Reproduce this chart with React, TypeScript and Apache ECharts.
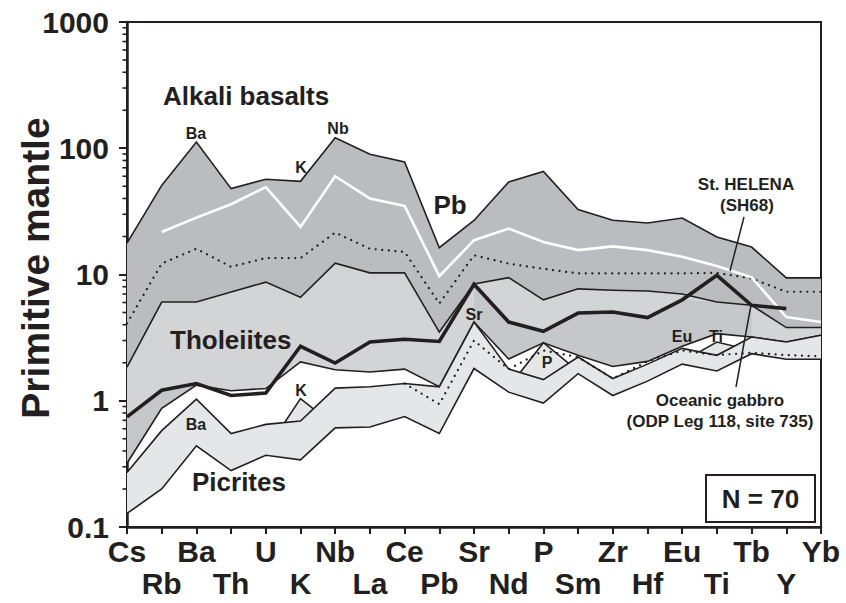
import React, { useEffect, useRef } from 'react';
import * as echarts from 'echarts';

// Element order along the x axis (primitive-mantle normalised spider diagram)
const CATS = ['Cs', 'Rb', 'Ba', 'Th', 'U', 'K', 'Nb', 'La', 'Ce', 'Pb', 'Sr', 'Nd', 'P', 'Sm', 'Zr', 'Hf', 'Eu', 'Ti', 'Tb', 'Y', 'Yb'];

// Alkali basalt field: upper envelope (its lower side is the tholeiite upper envelope)
const alkaliUpper = [17.7, 50.8, 112, 47.9, 56.8, 54.7, 121, 89.5, 77.8, 16.3, 26.8, 54, 65.6, 32.7, 26.9, 25.6, 28, 19.8, 16.5, 9.4, 9.4];
// Tholeiite field
const tholUpper = [1.85, 6.05, 6.05, 7.26, 8.7, 6.6, 12.3, 10.3, 10.3, 3.5, 8.4, 9.45, 6.3, 7.7, 7.5, 7.4, 7.0, 6.05, 5.7, 3.8, 3.8];
const tholLower = [0.32, 0.87, 1.33, 1.2, 1.25, 2.03, 1.76, 1.69, 1.78, 1.29, 4.2, 2.14, 2.88, 2.29, 1.87, 2.05, 2.7, 3.4, 3.2, 2.92, 3.3];
// Overlap sub-field (darker shade inside the tholeiite field)
const overlapUpper = [0.745, 1.21, 1.37, null, null, null, null, null, null, null, 8.36, 4.2, 3.55, 4.95, 5.05, 4.56, 6.3, 6.05, 5.7, null, null];
// Secondary picrite envelope (K, P and Ti spikes)
const picSpike = [0.18, 0.34, 0.65, 0.4, 0.4, 1.04, 0.63, 0.8, 0.95, 0.8, 2.5, 1.28, 2.88, 1.72, 1.25, 1.6, 2.05, 2.92, 2.5, 2.4, 2.6];
// Picrite field
const picUpper = [0.27, 0.58, 1.03, 0.55, 0.65, 0.69, 1.26, 1.29, 1.37, 1.29, 4.2, 1.78, 1.47, 2.22, 1.5, 1.95, 2.6, 2.29, 3.2, 2.92, 3.3];
const picLower = [0.128, 0.2, 0.44, 0.28, 0.37, 0.34, 0.61, 0.62, 0.75, 0.55, 1.8, 1.17, 0.96, 1.64, 1.1, 1.43, 1.95, 1.72, 2.36, 2.13, 2.13];
// Average patterns (dotted)
const dottedUpper = [4.1, 12.2, 16, 11.5, 13.5, 13.5, 21.5, 16, 15.1, 5.9, 14.2, 12.2, 11.1, 10.2, 10.2, 10.2, 10.2, 10.3, 9.3, 7.3, 7.3];
const dottedLower = [null, null, null, null, null, null, null, null, 1.37, 0.94, 3.0, 1.78, 2.5, 2.22, 1.5, 2.05, 2.5, 2.3, 2.4, 2.3, 2.25];
// St. HELENA (SH68) – white line
const stHelena = [null, 21.7, 28.2, 36, 49.3, 23.8, 60, 39.9, 34.9, 9.7, 18.7, 23.1, 18.1, 15.6, 16.7, 15.6, 13.8, 11.7, 9.5, 4.6, 4.2];
// Oceanic gabbro (ODP Leg 118, site 735) – thick line
const gabbro = [0.745, 1.21, 1.37, 1.1, 1.15, 2.7, 1.99, 2.92, 3.07, 2.95, 8.36, 4.2, 3.55, 4.95, 5.05, 4.56, 6.3, 9.86, 5.7, 5.37, null];

// y-axis minor tick positions
const DECADES = [0.1, 1, 10, 100];
const MINOR_STEPS = [2, 3, 4, 5, 6, 7, 8, 9];

const INK = '#231f20';
const FONT = "'Liberation Sans', Arial, Helvetica, sans-serif";
const C_DARK = '#bbbcc0';
const C_LIGHT = '#d3d4d6';
const C_MED = '#c6c7ca';
const C_PALE = '#e5e6e8';

function runs(up: (number | null)[], lo: (number | null)[]) {
  const res: number[][] = [];
  let cur: number[] = [];
  for (let i = 0; i < up.length; i++) {
    if (up[i] != null && lo[i] != null) cur.push(i);
    else {
      if (cur.length) res.push(cur);
      cur = [];
    }
  }
  if (cur.length) res.push(cur);
  return res;
}

function bandFill(up: (number | null)[], lo: (number | null)[], fill: string, z: number) {
  return {
    type: 'custom',
    z,
    silent: true,
    data: [[0, 1]],
    encode: { x: 0, y: 1 },
    renderItem: (_p: any, api: any) => {
      const children: any[] = [];
      for (const r of runs(up, lo)) {
        const pu = r.map((i) => api.coord([i, up[i]]));
        const pl = r.map((i) => api.coord([i, lo[i]]));
        children.push({
          type: 'polygon',
          shape: { points: pu.concat(pl.slice().reverse()) },
          style: { fill, stroke: null },
        });
      }
      return { type: 'group', children };
    },
  };
}

function pts(arr: (number | null)[]) {
  const out: number[][] = [];
  arr.forEach((v, i) => {
    if (v != null) out.push([i, v]);
  });
  return out;
}

function lineSeries(arr: (number | null)[], color: string, width: number, z: number, type: any = 'solid', cap = 'butt') {
  return {
    type: 'line',
    z,
    silent: true,
    symbol: 'none',
    data: pts(arr),
    lineStyle: { color, width, type, cap, join: 'miter' },
  };
}

const labelBase = {
  fontSize: 30,
  fontWeight: 'bold',
  fontFamily: FONT,
  color: INK,
  lineHeight: 32,
};

export default function App() {
  const ref = useRef<HTMLDivElement>(null);
  useEffect(() => {
    const chart = echarts.init(ref.current!, null, { renderer: 'svg' });
    const option: any = {
      animation: false,
      backgroundColor: '#ffffff',
      grid: { left: 127, right: 25, top: 22, bottom: 76, show: true, borderColor: INK, borderWidth: 2 },
      xAxis: [
        {
          type: 'value',
          position: 'bottom',
          min: 0,
          max: 20,
          interval: 1,
          splitLine: { show: false },
          axisLine: { show: true, onZero: false, lineStyle: { color: INK, width: 2.5 } },
          axisTick: { show: true, length: 7, lineStyle: { color: INK, width: 2 } },
          axisLabel: {
            ...labelBase,
            margin: 8,
            showMinLabel: true,
            showMaxLabel: true,
            formatter: (v: number) => {
              const i = Math.round(v);
              return i % 2 === 0 ? CATS[i] : '';
            },
          },
        },
        {
          type: 'value',
          position: 'bottom',
          min: 0,
          max: 20,
          interval: 1,
          splitLine: { show: false },
          axisLine: { show: false, onZero: false },
          axisTick: { show: false },
          axisLabel: {
            ...labelBase,
            margin: 40,
            showMinLabel: true,
            showMaxLabel: true,
            formatter: (v: number) => {
              const i = Math.round(v);
              return i % 2 === 1 ? CATS[i] : '';
            },
          },
        },
      ],
      yAxis: {
        type: 'log',
        logBase: 10,
        min: 0.1,
        max: 1000,
        splitLine: { show: false },
        axisLine: { show: true, lineStyle: { color: INK, width: 2.5 } },
        axisTick: { show: true, length: 8, lineStyle: { color: INK, width: 2 } },
        axisLabel: {
          margin: 18,
          fontSize: 30,
          fontWeight: 'bold',
          fontFamily: FONT,
          color: INK,
          showMinLabel: true,
          showMaxLabel: true,
          formatter: (v: number) => (v < 0.5 ? '0.1' : String(Math.round(v))),
        },
      },
      series: [
        bandFill(alkaliUpper, tholUpper, C_DARK, 1),
        bandFill(tholUpper, tholLower, C_LIGHT, 2),
        bandFill(overlapUpper, tholLower, C_MED, 3),
        lineSeries(alkaliUpper, INK, 1.6, 4),
        lineSeries(tholUpper, INK, 1.6, 4),
        lineSeries(tholLower, INK, 1.6, 4),
        bandFill(picSpike, picLower, C_PALE, 5),
        lineSeries(picSpike, INK, 1.6, 6),
        bandFill(picUpper, picLower, C_PALE, 7),
        lineSeries(picUpper, INK, 1.6, 8),
        lineSeries(picLower, INK, 1.6, 8),
        lineSeries(dottedUpper, INK, 2.2, 9, [0.1, 6.5], 'round'),
        lineSeries(dottedLower, INK, 2.2, 9, [0.1, 6.5], 'round'),
        lineSeries(stHelena, '#ffffff', 2.6, 10),
        lineSeries(gabbro, INK, 3.6, 11),
        {
          type: 'custom',
          z: 12,
          silent: true,
          clip: false,
          data: [[0, 1]],
          encode: { x: 0, y: 1 },
          renderItem: (_p: any, api: any) => {
            const children: any[] = [];
            for (const d of DECADES) {
              for (const k of MINOR_STEPS) {
                const p = api.coord([0, d * k]);
                children.push({
                  type: 'line',
                  shape: { x1: p[0] - 4.5, y1: p[1], x2: p[0], y2: p[1] },
                  style: { stroke: INK, lineWidth: 1.6 },
                });
              }
            }
            return { type: 'group', children };
          },
        },
      ],
      graphic: [
        {
          type: 'text', x: 35, y: 268, rotation: Math.PI / 2, z: 100,
          style: { text: 'Primitive mantle', font: `bold 39px ${FONT}`, fill: INK, align: 'center', verticalAlign: 'middle' },
        },
        { type: 'text', x: 163, y: 96, z: 100, style: { text: 'Alkali basalts', font: `bold 26px ${FONT}`, fill: INK, align: 'left', verticalAlign: 'middle' } },
        { type: 'text', x: 450, y: 205, z: 100, style: { text: 'Pb', font: `bold 26px ${FONT}`, fill: INK, align: 'center', verticalAlign: 'middle' } },
        { type: 'text', x: 170, y: 340, z: 100, style: { text: 'Tholeiites', font: `bold 26px ${FONT}`, fill: INK, align: 'left', verticalAlign: 'middle' } },
        { type: 'text', x: 192, y: 482, z: 100, style: { text: 'Picrites', font: `bold 26px ${FONT}`, fill: INK, align: 'left', verticalAlign: 'middle' } },
        { type: 'text', x: 196, y: 133, z: 100, style: { text: 'Ba', font: `bold 16px ${FONT}`, fill: INK, align: 'center', verticalAlign: 'middle' } },
        { type: 'text', x: 301, y: 167, z: 100, style: { text: 'K', font: `bold 16px ${FONT}`, fill: INK, align: 'center', verticalAlign: 'middle' } },
        { type: 'text', x: 338, y: 128, z: 100, style: { text: 'Nb', font: `bold 16px ${FONT}`, fill: INK, align: 'center', verticalAlign: 'middle' } },
        { type: 'text', x: 474, y: 314, z: 100, style: { text: 'Sr', font: `bold 16px ${FONT}`, fill: INK, align: 'center', verticalAlign: 'middle' } },
        { type: 'text', x: 547, y: 362, z: 100, style: { text: 'P', font: `bold 16px ${FONT}`, fill: INK, align: 'center', verticalAlign: 'middle' } },
        { type: 'text', x: 682, y: 336, z: 100, style: { text: 'Eu', font: `bold 16px ${FONT}`, fill: INK, align: 'center', verticalAlign: 'middle' } },
        { type: 'text', x: 716, y: 336, z: 100, style: { text: 'Ti', font: `bold 16px ${FONT}`, fill: INK, align: 'center', verticalAlign: 'middle' } },
        { type: 'text', x: 196, y: 424, z: 100, style: { text: 'Ba', font: `bold 16px ${FONT}`, fill: INK, align: 'center', verticalAlign: 'middle' } },
        { type: 'text', x: 301, y: 390, z: 100, style: { text: 'K', font: `bold 16px ${FONT}`, fill: INK, align: 'center', verticalAlign: 'middle' } },
        { type: 'text', x: 746, y: 184, z: 100, style: { text: 'St. HELENA', font: `bold 17px ${FONT}`, fill: INK, align: 'center', verticalAlign: 'middle' } },
        { type: 'text', x: 747, y: 205, z: 100, style: { text: '(SH68)', font: `bold 17px ${FONT}`, fill: INK, align: 'center', verticalAlign: 'middle' } },
        { type: 'text', x: 720, y: 400, z: 100, style: { text: 'Oceanic gabbro', font: `bold 17px ${FONT}`, fill: INK, align: 'center', verticalAlign: 'middle' } },
        { type: 'text', x: 720, y: 421, z: 100, style: { text: '(ODP Leg 118, site 735)', font: `bold 17px ${FONT}`, fill: INK, align: 'center', verticalAlign: 'middle' } },
        { type: 'line', z: 100, shape: { x1: 744, y1: 217, x2: 730, y2: 271 }, style: { stroke: INK, lineWidth: 1.5 } },
        { type: 'line', z: 100, shape: { x1: 736, y1: 387, x2: 751, y2: 305 }, style: { stroke: INK, lineWidth: 1.5 } },
        { type: 'rect', z: 100, shape: { x: 706, y: 475, width: 109, height: 47 }, style: { fill: '#ffffff', stroke: INK, lineWidth: 2 } },
        { type: 'text', x: 760.5, y: 499, z: 101, style: { text: 'N = 70', font: `bold 26px ${FONT}`, fill: INK, align: 'center', verticalAlign: 'middle' } },
      ],
    };
    chart.setOption(option);
    return () => chart.dispose();
  }, []);
  return <div ref={ref} style={{ position: 'fixed', left: 0, top: 0, width: 846, height: 603 }} />;
}
